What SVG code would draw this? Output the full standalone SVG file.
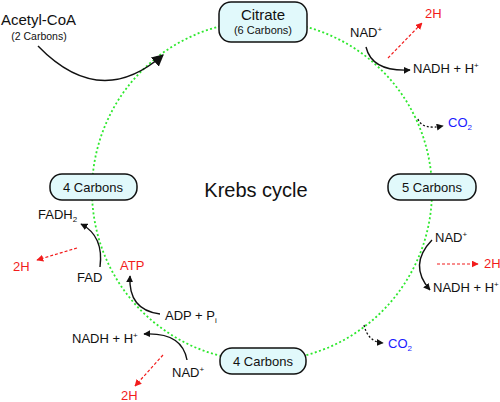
<svg xmlns="http://www.w3.org/2000/svg" width="500" height="402" viewBox="0 0 500 402">
<defs>
<style>
text{font-family:"Liberation Sans",Arial,sans-serif;fill:#111}
.red{fill:#f21c1c}
.blue{fill:#1a1aff}
.box rect{fill:#e1f9fb;stroke:#111;stroke-width:1.5}
.cyc{fill:none;stroke:#2ee82e;stroke-width:1.8;stroke-dasharray:2 2.4}
.blk{fill:none;stroke:#111;stroke-width:1.4}
.rd{fill:none;stroke:#f21c1c;stroke-width:1.2;stroke-dasharray:3 2}
.dot{fill:none;stroke:#111;stroke-width:1.3;stroke-dasharray:2 2}
</style>
<marker id="ab" viewBox="0 0 10 10" refX="9" refY="5" markerWidth="7" markerHeight="7" orient="auto" markerUnits="userSpaceOnUse"><path d="M0,0 L10,5 L0,10 z" fill="#111"/></marker>
<marker id="ab2" viewBox="0 0 10 10" refX="9" refY="5" markerWidth="12" markerHeight="12" orient="auto" markerUnits="userSpaceOnUse"><path d="M0,0 L10,5 L0,10 z" fill="#111"/></marker>
<marker id="ar" viewBox="0 0 10 10" refX="9" refY="5" markerWidth="7" markerHeight="7" orient="auto" markerUnits="userSpaceOnUse"><path d="M0,0 L10,5 L0,10 z" fill="#f21c1c"/></marker>
</defs>
<circle class="cyc" cx="262" cy="191" r="170"/>
<g id="connectors">
<path class="blk" d="M38,46 Q100,110 163,55" marker-end="url(#ab2)"/>
<path class="blk" d="M366,47 Q372,72 410,70" marker-end="url(#ab)"/>
<path class="rd" d="M388,58 L422,23" marker-end="url(#ar)"/>
<path class="dot" d="M418,119 Q422,130 443,126" marker-end="url(#ab)"/>
<path class="blk" d="M432,240 Q408,265 430,290" marker-end="url(#ab)"/>
<path class="rd" d="M437,264 L478,264" marker-end="url(#ar)"/>
<path class="dot" d="M364,325 Q368,342 383,343" marker-end="url(#ab)"/>
<path class="blk" d="M187,360 Q182,332 144,334" marker-end="url(#ab)"/>
<path class="rd" d="M163,355 L135,386" marker-end="url(#ar)"/>
<path class="blk" d="M160,314 Q128,310 130,276" marker-end="url(#ab)"/>
<path class="blk" d="M100,267 Q104,236 81,224" marker-end="url(#ab)"/>
<path class="rd" d="M77,248 L37,260" marker-end="url(#ar)"/>
</g>
<g id="citrate" class="box"><rect x="219" y="2" width="88" height="40" rx="12"/><text x="263" y="20" font-size="15" text-anchor="middle">Citrate</text><text x="263" y="34" font-size="11" text-anchor="middle">(6 Carbons)</text></g>
<g id="c5" class="box"><rect x="388" y="174" width="88" height="26" rx="12"/><text x="432" y="192" font-size="13" text-anchor="middle">5 Carbons</text></g>
<g id="c4b" class="box"><rect x="220" y="348" width="86" height="26" rx="12"/><text x="263" y="366" font-size="13" text-anchor="middle">4 Carbons</text></g>
<g id="c4l" class="box"><rect x="50" y="174" width="87" height="26" rx="12"/><text x="93" y="192" font-size="13" text-anchor="middle">4 Carbons</text></g>
<g id="acetyl"><text x="1" y="25" font-size="15">Acetyl-CoA</text><text x="39" y="40" font-size="10.5" text-anchor="middle">(2 Carbons)</text></g>
<g id="title"><text x="256" y="197" font-size="20" text-anchor="middle">Krebs cycle</text></g>
<g id="labels" font-size="13">
<text x="350" y="37">NAD<tspan font-size="8" dy="-5">+</tspan></text>
<text class="red" x="425" y="18">2H</text>
<text x="413" y="73">NADH + H<tspan font-size="8" dy="-5">+</tspan></text>
<text class="blue" x="448" y="127">CO<tspan font-size="8" dy="3">2</tspan></text>
<text x="435" y="242">NAD<tspan font-size="8" dy="-5">+</tspan></text>
<text class="red" x="484" y="268">2H</text>
<text x="433" y="292">NADH + H<tspan font-size="8" dy="-5">+</tspan></text>
<text class="blue" x="388" y="348">CO<tspan font-size="8" dy="3">2</tspan></text>
<text x="72" y="343">NADH + H<tspan font-size="8" dy="-5">+</tspan></text>
<text x="172" y="377">NAD<tspan font-size="8" dy="-5">+</tspan></text>
<text class="red" x="121" y="400">2H</text>
<text x="165" y="320">ADP + P<tspan font-size="8" dy="3">i</tspan></text>
<text class="red" x="120" y="270">ATP</text>
<text x="77" y="282">FAD</text>
<text class="red" x="13" y="271">2H</text>
<text x="38" y="219">FADH<tspan font-size="8" dy="3">2</tspan></text>
</g>
</svg>
